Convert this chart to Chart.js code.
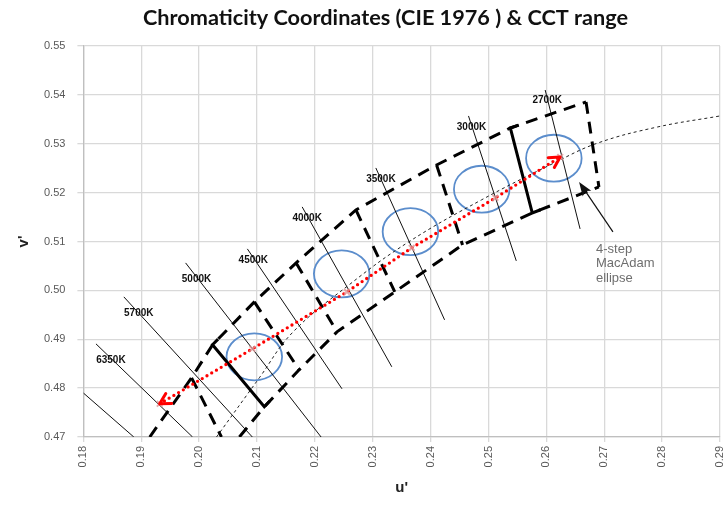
<!DOCTYPE html>
<html>
<head>
<meta charset="utf-8">
<script src="https://cdn.jsdelivr.net/npm/chart.js@4.4.1/dist/chart.umd.min.js"></script>
<style>
html, body { margin: 0; padding: 0; background: #fff; }
</style>
</head>
<body>
<canvas id="chart" width="726" height="508"></canvas>
<script>
// isotherm lines (thin black), [u', v'] at top and bottom ends
const isoLabels = ['', '6350K', '5700K', '5000K', '4500K', '4000K', '3500K', '3000K', '2700K'];
const isoTop = [[0.18, 0.4790], [0.18217, 0.48906], [0.18699, 0.49867], [0.19766, 0.50562], [0.20833, 0.50849],
    [0.21780, 0.51708], [0.23053, 0.52505], [0.24654, 0.53569], [0.25979, 0.54100]];
const isoBottom = [[0.18871, 0.47], [0.19886, 0.47], [0.20919, 0.47], [0.22107, 0.47], [0.22468, 0.47986],
    [0.23329, 0.48436], [0.24241, 0.49397], [0.25480, 0.50603], [0.26582, 0.51258]];
// where each CCT label sits (centre)
const isoLabelAt = [null, [0.18475, 0.48579], [0.18957, 0.49540], [0.19955, 0.50235], [0.20936, 0.50624],
    [0.21866, 0.51483], [0.23140, 0.52280], [0.24706, 0.53344], [0.26014, 0.53896]];

// black body locus (thin dashed)
const locusU = [0.2030, 0.21040, 0.21608, 0.22589, 0.23621, 0.24878, 0.26134, 0.26891, 0.27924, 0.29];
const locusV = [0.47, 0.48211, 0.49131, 0.50112, 0.50992, 0.51851, 0.52607, 0.53016, 0.53344, 0.53569];

// CCT quadrangles (thick dashed): upper and lower edges
const upperU = [0.19146, 0.19869, 0.20231, 0.20954, 0.21676, 0.22709, 0.24103, 0.25377, 0.26685];
const upperV = [0.47, 0.48211, 0.48886, 0.49765, 0.50562, 0.51646, 0.52566, 0.53323, 0.53855];
const lowerU = [0.20695, 0.21126, 0.21728, 0.22382, 0.23380, 0.24551, 0.25756, 0.26908];
const lowerV = [0.47, 0.47618, 0.48374, 0.49151, 0.49969, 0.50930, 0.51585, 0.52117];
// quadrangle sides [u1, v1, u2, v2]
const sides = [
    [0.19869, 0.48211, 0.20386, 0.47],
    [0.20954, 0.49765, 0.21728, 0.48374],
    [0.21676, 0.50562, 0.22382, 0.49151],
    [0.22709, 0.51646, 0.23380, 0.49969],
    [0.24103, 0.52566, 0.24551, 0.50930],
    [0.26685, 0.53855, 0.26908, 0.52117]
];
// solid brackets
const bracket5000 = [[0.20327, 0.49002], [0.20231, 0.48886], [0.21126, 0.47618], [0.21220, 0.47736]];
const bracket2700 = [[0.25523, 0.53382], [0.25377, 0.53323], [0.25756, 0.51585], [0.25900, 0.51650]];

// target points (red dotted arrow)
const targetU = [0.19318, 0.20919, 0.22554, 0.23673, 0.25119, 0.26238];
const targetV = [0.47679, 0.48804, 0.49969, 0.50870, 0.51892, 0.52730];

// MacAdam ellipses
const ellipseU = [0.20953, 0.22463, 0.23651, 0.24883, 0.26129];
const ellipseV = [0.48640, 0.50338, 0.51202, 0.52070, 0.52704];
const ellipseR = 0.0048;

const noteText = ['4-step', 'MacAdam', 'ellipse'];
const noteAt = [0.26857, 0.50840];
const noteArrow = [0.27150, 0.51196, 0.26565, 0.52219];

const TITLE = 'Chromaticity Coordinates (CIE 1976 ) & CCT range';
const FONT = "'Liberation Sans', Arial, sans-serif";

function pts(list) {
    return list.map(p => ({ x: p[0], y: p[1] }));
}
function zipPts(us, vs) {
    return us.map((u, i) => ({ x: u, y: vs[i] }));
}
function lineSet(data, width, dash, color) {
    return {
        data: data,
        showLine: true,
        borderColor: color || '#000',
        borderWidth: width,
        borderDash: dash || [],
        pointRadius: 0,
        fill: false
    };
}

const datasets = [];
// red dotted line on top
datasets.push({
    data: zipPts(targetU, targetV),
    showLine: true,
    borderColor: '#ff0000',
    borderWidth: 3.3,
    borderDash: [0, 5.5],
    borderCapStyle: 'round',
    pointStyle: 'crossRot',
    pointRadius: 4,
    pointBorderColor: 'rgba(220,150,150,0.8)',
    pointBorderWidth: 2,
    fill: false
});
datasets.push(lineSet(pts(bracket5000), 3, []));
datasets.push(lineSet(pts(bracket2700), 3, []));
datasets.push(lineSet(zipPts(upperU, upperV), 3, [12, 8]));
datasets.push(lineSet(zipPts(lowerU, lowerV), 3, [12, 8]));
sides.forEach(s => datasets.push(lineSet([{ x: s[0], y: s[1] }, { x: s[2], y: s[3] }], 3, [12, 8])));
const locusSet = lineSet(zipPts(locusU, locusV), 1, [3, 3], '#222');
locusSet.tension = 0.4;
datasets.push(locusSet);
isoTop.forEach((t, i) => datasets.push(lineSet(pts([t, isoBottom[i]]), 1, [], '#111')));

function chevron(ctx, tx, ty, fx, fy, len, spread) {
    const a = Math.atan2(fy - ty, fx - tx);
    ctx.beginPath();
    ctx.moveTo(tx + len * Math.cos(a - spread), ty + len * Math.sin(a - spread));
    ctx.lineTo(tx, ty);
    ctx.lineTo(tx + len * Math.cos(a + spread), ty + len * Math.sin(a + spread));
    ctx.stroke();
}

const overlay = {
    id: 'overlay',
    beforeDatasetsDraw(chart) {
        const { ctx, chartArea, scales: { x, y } } = chart;
        ctx.save();
        ctx.beginPath();
        ctx.rect(chartArea.left, chartArea.top, chartArea.width, chartArea.height);
        ctx.clip();
        ctx.strokeStyle = '#5b8dcc';
        ctx.lineWidth = 1.8;
        ellipseU.forEach((u, i) => {
            const cx = x.getPixelForValue(u), cy = y.getPixelForValue(ellipseV[i]);
            const rx = x.getPixelForValue(u + ellipseR) - cx;
            const ry = cy - y.getPixelForValue(ellipseV[i] + ellipseR);
            ctx.beginPath();
            ctx.ellipse(cx, cy, rx, ry, 0, 0, Math.PI * 2);
            ctx.stroke();
        });
        ctx.restore();
    },
    afterDatasetsDraw(chart) {
        const { ctx, scales: { x, y } } = chart;
        const px = (u) => x.getPixelForValue(u);
        const py = (v) => y.getPixelForValue(v);
        ctx.save();

        // red arrow heads
        const n = targetU.length;
        ctx.strokeStyle = '#ff0000';
        ctx.lineWidth = 3;
        ctx.lineCap = 'round';
        ctx.lineJoin = 'round';
        chevron(ctx, px(targetU[0]), py(targetV[0]), px(targetU[1]), py(targetV[1]), 12, 0.5);
        chevron(ctx, px(targetU[n - 1]), py(targetV[n - 1]), px(targetU[n - 2]), py(targetV[n - 2]), 12, 0.5);

        // CCT labels
        ctx.fillStyle = '#111';
        ctx.font = 'bold 10px ' + FONT;
        ctx.textAlign = 'center';
        ctx.textBaseline = 'middle';
        isoLabels.forEach((lab, i) => {
            if (!lab) return;
            ctx.fillText(lab, px(isoLabelAt[i][0]), py(isoLabelAt[i][1]));
        });

        // note arrow
        const x1 = px(noteArrow[0]), y1 = py(noteArrow[1]), x2 = px(noteArrow[2]), y2 = py(noteArrow[3]);
        ctx.strokeStyle = '#111';
        ctx.fillStyle = '#111';
        ctx.lineWidth = 1.2;
        ctx.lineCap = 'butt';
        const a = Math.atan2(y1 - y2, x1 - x2);
        ctx.beginPath();
        ctx.moveTo(x1, y1);
        ctx.lineTo(x2 + 10 * Math.cos(a), y2 + 10 * Math.sin(a));
        ctx.stroke();
        ctx.beginPath();
        ctx.moveTo(x2, y2);
        ctx.lineTo(x2 + 15 * Math.cos(a - 0.35), y2 + 15 * Math.sin(a - 0.35));
        ctx.lineTo(x2 + 11 * Math.cos(a), y2 + 11 * Math.sin(a));
        ctx.lineTo(x2 + 15 * Math.cos(a + 0.35), y2 + 15 * Math.sin(a + 0.35));
        ctx.closePath();
        ctx.fill();

        ctx.fillStyle = '#6e6e6e';
        ctx.font = '13px ' + FONT;
        ctx.textAlign = 'left';
        noteText.forEach((t, i) => ctx.fillText(t, px(noteAt[0]), py(noteAt[1]) + i * 14.5));
        ctx.restore();
    },
    afterDraw(chart) {
        const { ctx } = chart;
        ctx.save();
        ctx.fillStyle = '#111';
        ctx.font = 'bold 20px Lato, ' + FONT;
        const w = ctx.measureText(TITLE).width;
        const size = Math.round(20 * 485 / w * 10) / 10;
        ctx.font = 'bold ' + size + 'px Lato, ' + FONT;
        ctx.textAlign = 'center';
        ctx.textBaseline = 'middle';
        ctx.fillText(TITLE, 385.5, 18);
        ctx.restore();
    }
};

const tickFont = { family: FONT, size: 11 };

new Chart(document.getElementById('chart'), {
    type: 'scatter',
    data: { datasets: datasets },
    options: {
        responsive: false,
        animation: false,
        events: [],
        layout: { padding: { top: 46, right: 3.5, left: 0, bottom: 0 } },
        plugins: {
            legend: { display: false },
            tooltip: { enabled: false },
            title: { display: false }
        },
        scales: {
            x: {
                type: 'linear',
                min: 0.18,
                max: 0.29,
                afterFit: s => { s.height = 71; s.paddingLeft = 0; s.paddingRight = 0; },
                ticks: {
                    stepSize: 0.01,
                    autoSkip: false,
                    minRotation: 90,
                    maxRotation: 90,
                    padding: 4,
                    color: '#595959',
                    font: tickFont,
                    callback: v => v.toFixed(2)
                },
                grid: { color: '#d9d9d9', lineWidth: 1.3, tickLength: 5 },
                border: { color: '#bfbfbf', width: 1.3 },
                title: {
                    display: true,
                    text: "u'",
                    color: '#222',
                    font: { family: FONT, size: 15, weight: 'bold' },
                    padding: { top: 0, bottom: 11 }
                }
            },
            y: {
                type: 'linear',
                min: 0.47,
                max: 0.55,
                afterFit: s => { s.width = 83.4; s.paddingTop = 0; s.paddingBottom = 0; },
                ticks: {
                    stepSize: 0.01,
                    autoSkip: false,
                    padding: 12,
                    color: '#595959',
                    font: tickFont,
                    callback: v => v.toFixed(2)
                },
                grid: { color: '#d9d9d9', lineWidth: 1.3, tickLength: 6 },
                border: { color: '#bfbfbf', width: 1.3 },
                title: {
                    display: true,
                    text: "v'",
                    color: '#222',
                    font: { family: FONT, size: 15, weight: 'bold' },
                    padding: { top: 15, bottom: 0 }
                }
            }
        }
    },
    plugins: [overlay]
});
</script>
</body>
</html>
